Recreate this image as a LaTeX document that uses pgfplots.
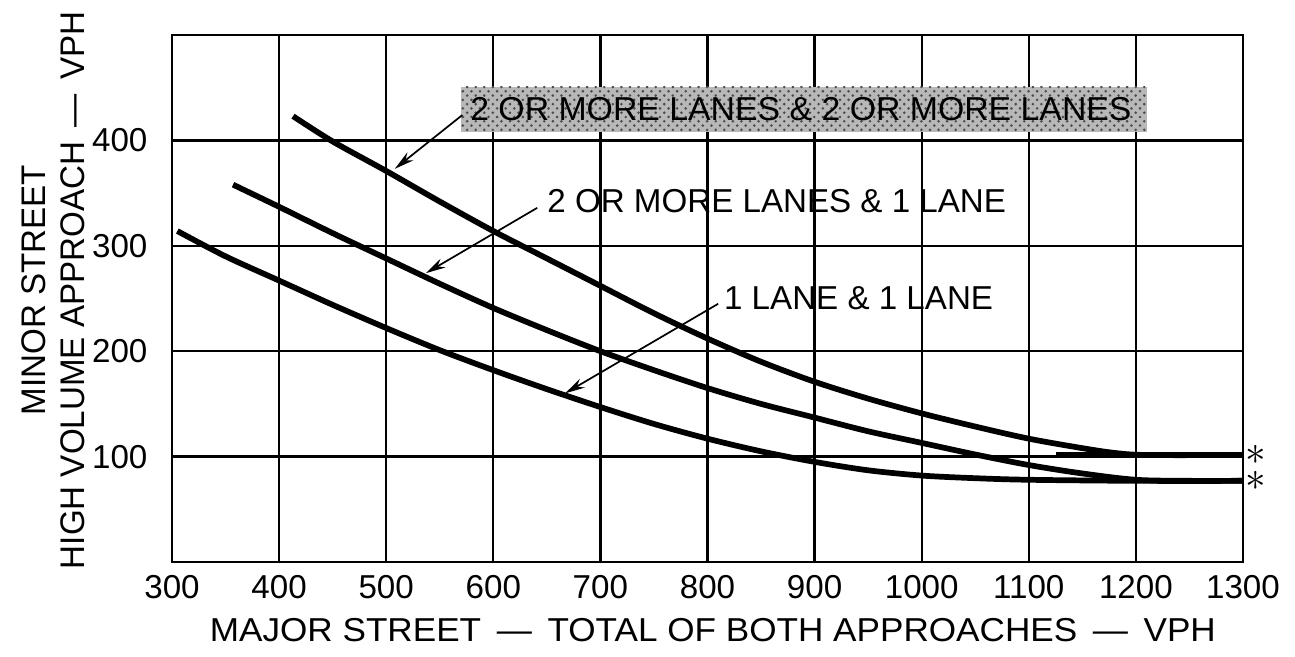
\documentclass[border=0pt]{standalone}
\usepackage{pgfplots}
\pgfplotsset{compat=1.18}
\usepackage{fontspec}
\setmainfont{Liberation Sans}
\usetikzlibrary{patterns,arrows.meta}

\pgfplotstableread{
x y
413 423
450 399
500 371
550 342
600 314
650 288
700 262
750 236
800 212
850 190
900 171
950 155
1000 141
1050 128.5
1100 117
1150 108
1180 103.5
1210 101.5
1300 101.5
}\curveA

\pgfplotstableread{
x y
357 358
400 337
450 312
500 288
550 264
600 241
650 220
700 200
750 182
800 165
850 150
900 137
950 124
1000 113
1050 102
1100 92
1150 84
1200 78
1250 77
1300 77
}\curveB

\pgfplotstableread{
x y
305 314
350 290
400 267
450 244
500 222
550 201
600 182
650 164
700 147
750 131
800 117
850 105
900 95
950 87
1000 82
1050 79.5
1100 78
1200 77
1300 77
}\curveC

\begin{document}
\begin{tikzpicture}[font=\fontsize{11.6}{13.9}\selectfont]
\useasboundingbox (-60.2pt,-33.25pt) rectangle (393.05pt,196.7pt);
\begin{axis}[
  at={(0,0)}, anchor=south west,
  scale only axis, width=374.85pt, height=184.45pt,
  xmin=300, xmax=1300, ymin=0, ymax=500,
  xtick={300,400,...,1300}, ytick={100,200,300,400},
  grid=major, major grid style={black, line width=0.8pt},
  axis line style={black, line width=0.9pt},
  major tick length=0pt,
  /pgf/number format/assume math mode=true,
  /pgf/number format/1000 sep={},
  ticklabel style={font=\fontsize{11.6}{13.9}\selectfont, inner sep=0pt},
  xticklabel style={anchor=north, yshift=-4.5pt},
  yticklabel style={anchor=east, xshift=-8.4pt},
  xlabel={MAJOR STREET \,—\, TOTAL OF BOTH APPROACHES \,—\, VPH},
  xlabel style={at={(axis description cs:0.505,-0.129)}, anchor=center, xscale=1.06},
  ylabel={MINOR STREET\\HIGH VOLUME APPROACH \,—\, VPH},
  ylabel style={at={(axis description cs:-0.111,0.516)}, anchor=center, align=center, yscale=1.03, execute at begin node={\baselineskip=13pt}},
  clip=false,
]
\fill[black!28] (axis cs:570,408) rectangle (axis cs:1210,451);
\fill[pattern=crosshatch dots, pattern color=black!70] (axis cs:570,408) rectangle (axis cs:1210,451);

\addplot[black, line width=2pt, smooth, tension=0.5] table[x=x,y=y] {\curveA};
\addplot[black, line width=2pt, smooth, tension=0.5] table[x=x,y=y] {\curveB};
\addplot[black, line width=2pt, smooth, tension=0.5] table[x=x,y=y] {\curveC};
\addplot[black, line width=2pt] coordinates {(1125,101.5) (1300,101.5)};

\node[anchor=west, inner sep=0pt, xscale=1.02] at (axis cs:578,429.5) {2 OR MORE LANES \& 2 OR MORE LANES};
\node[anchor=west, inner sep=0pt] at (axis cs:650,342) {2 OR MORE LANES \& 1 LANE};
\node[anchor=west, inner sep=0pt] at (axis cs:815,250) {1 LANE \& 1 LANE};

\draw[line width=0.6pt, -{Stealth[length=7pt,width=3.5pt]}] (axis cs:571,424) -- (axis cs:508,373);
\draw[line width=0.6pt, -{Stealth[length=7pt,width=3.5pt]}] (axis cs:641,336) -- (axis cs:537,274);
\draw[line width=0.6pt, -{Stealth[length=7pt,width=3.5pt]}] (axis cs:810,245) -- (axis cs:667,160);

\node[xshift=4.5pt, scale=1.2, inner sep=0pt] at (axis cs:1300,101.5) {$\ast$};
\node[xshift=4.5pt, scale=1.2, inner sep=0pt] at (axis cs:1300,77) {$\ast$};
\end{axis}
\end{tikzpicture}
\end{document}
